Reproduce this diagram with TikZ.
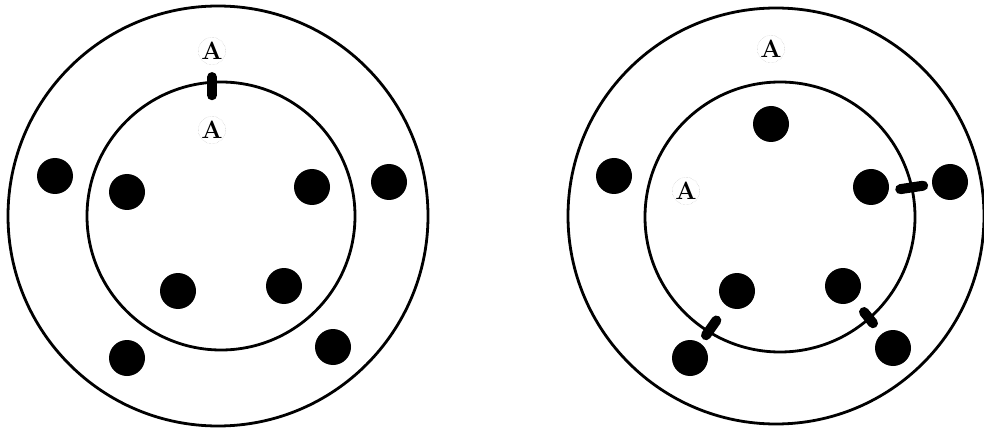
\documentclass[tikz,border=0pt]{standalone}
\usetikzlibrary{calc}
\begin{document}
\begin{tikzpicture}[
  x=1pt, y=-1pt,
  ring/.style = {line width=2.8pt},
  ion/.style  = {circle, fill=black, minimum size=36pt, inner sep=0pt},
  atom/.style = {circle, draw=gray!55, densely dotted, line width=0.4pt,
                 minimum size=27pt, inner sep=0pt,
                 font=\fontsize{25}{25}\selectfont\bfseries},
  bond/.style = {line width=10pt, line cap=round},
]
\useasboundingbox (0,0) rectangle (984,430);
% left shell
\draw[ring] (218,216) circle[radius=210];
\draw[ring] (221,216) circle[radius=134];
\node[atom] (la1) at (212,51)  {A};
\node[atom] (la2) at (212,130) {A};
\node[ion]  (l1)  at (55,176)  {};
\node[ion]  (l2)  at (127,192) {};
\node[ion]  (l3)  at (312,187) {};
\node[ion]  (l4)  at (389,182) {};
\node[ion]  (l5)  at (178,291) {};
\node[ion]  (l6)  at (284,286) {};
\node[ion]  (l7)  at (127,358) {};
\node[ion]  (l8)  at (333,347) {};
\draw[bond] ($(la1)!0.33!(la2)$) -- ($(la1)!0.56!(la2)$);
% right shell
\draw[ring] (776,216) circle[radius=208];
\draw[ring] (780,217) circle[radius=135];
\node[atom] (ra1) at (771,49)  {A};
\node[atom] (ra2) at (686,191) {A};
\node[ion]  (r1)  at (614,176) {};
\node[ion]  (r2)  at (771,124) {};
\node[ion]  (r3)  at (871,187) {};
\node[ion]  (r4)  at (950,182) {};
\node[ion]  (r5)  at (737,291) {};
\node[ion]  (r6)  at (843,286) {};
\node[ion]  (r7)  at (690,358) {};
\node[ion]  (r8)  at (893,348) {};
\draw[bond] ($(r3)!0.37!(r4)+(0,4)$) -- ($(r3)!0.66!(r4)+(0,2)$);
\draw[bond] ($(r5)!0.44!(r7)$) -- ($(r5)!0.66!(r7)$);
\draw[bond] ($(r6)!0.42!(r8)$) -- ($(r6)!0.6!(r8)$);
\end{tikzpicture}
\end{document}
